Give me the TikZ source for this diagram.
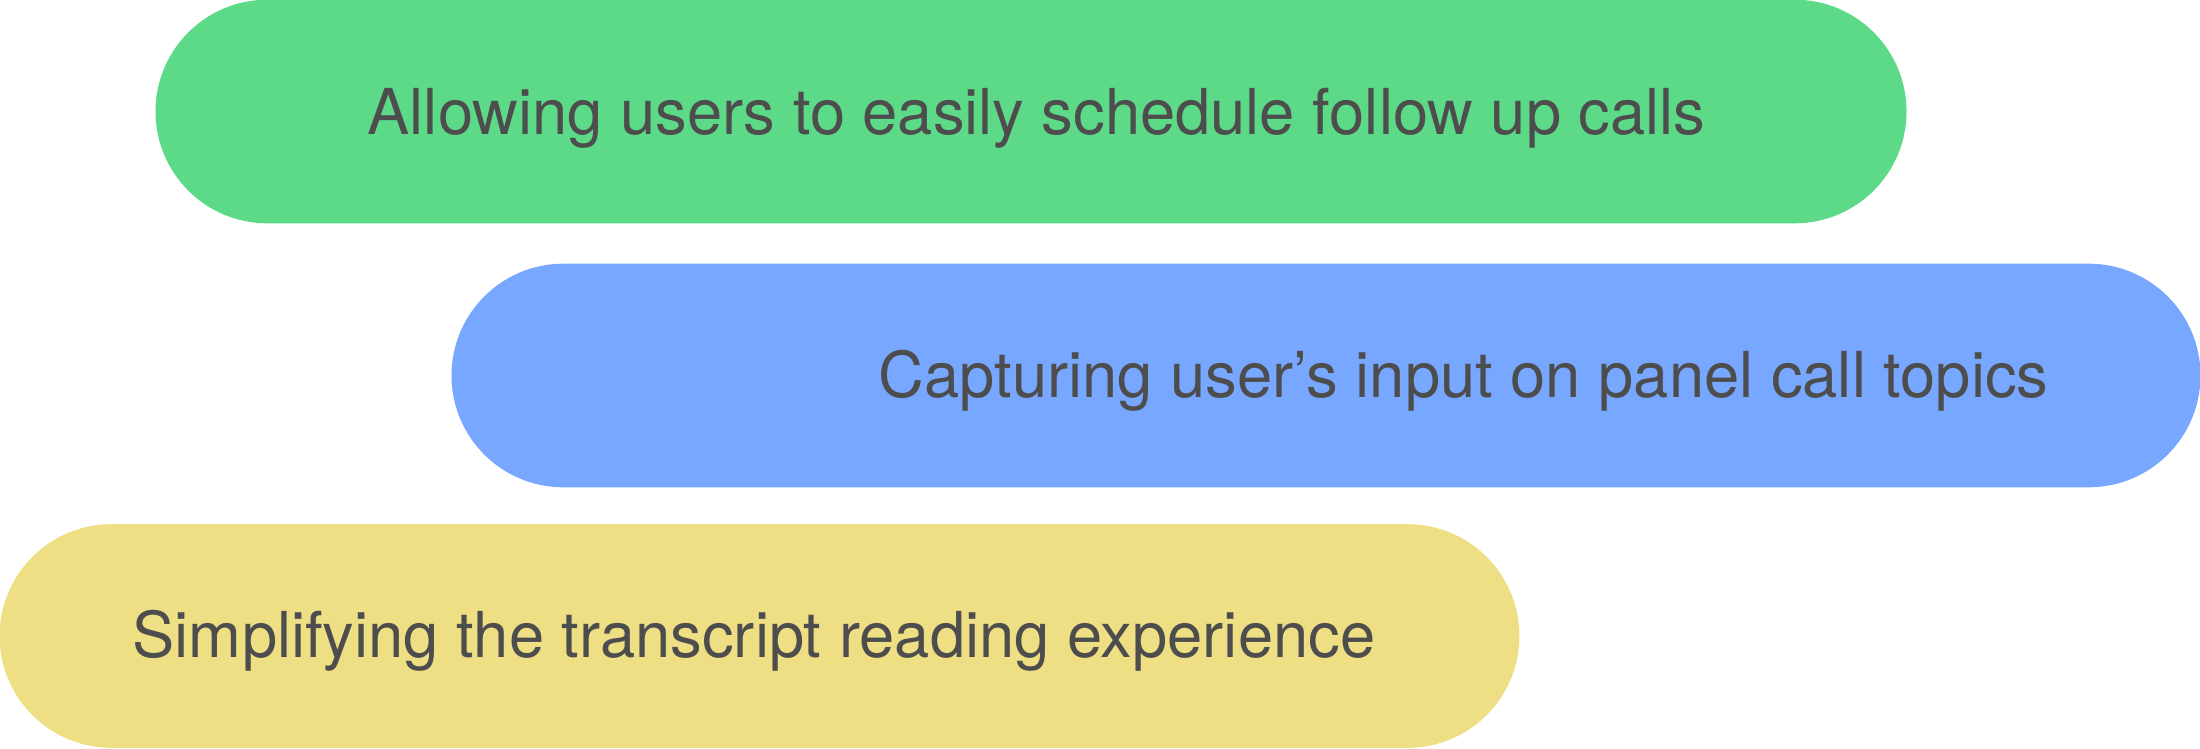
\documentclass[tikz,border=0pt]{standalone}
\usepackage{fontspec}
\setmainfont{TeX Gyre Heros}
\usetikzlibrary{shapes.misc}
\definecolor{pillgreen}{HTML}{5CDA88}
\definecolor{pillblue}{HTML}{77A7FF}
\definecolor{pillyellow}{HTML}{EEDF84}
\definecolor{pilltext}{HTML}{4D4D4D}
\newcommand{\pillh}{2.235cm}
\newcommand{\capsize}{18}

\begin{document}
\begin{tikzpicture}[x=0.01cm,y=-0.01cm]
                %\draw[help lines] (0,0) grid[step=100] (2200,748);
                \tikzset{pill/.style = {rounded rectangle, draw=none, inner sep=0pt, minimum height=\pillh}}
                \tikzset{caption/.style = {anchor=base west, inner sep=0pt, text=pilltext, font=\fontsize{\capsize}{20}\selectfont}}
                \useasboundingbox (0,0) rectangle (2200,748);
                \node[pill, fill=pillgreen, minimum width=17.5cm] (followup) at (1031,111.5) {};
                \node[pill, fill=pillblue, minimum width=17.48cm] (topics) at (1326,375.5) {};
                \node[pill, fill=pillyellow, minimum width=15.19cm] (transcript) at (759.5,636) {};
                \node[caption] (followuptext) at (367,134) {Allowing users to easily schedule follow up calls};
                \node[caption] (topicstext) at (878,397) {Capturing user’s input on panel call topics};
                \node[caption] (transcripttext) at (132,657) {Simplifying the transcript reading experience};
        \end{tikzpicture}
\end{document}
